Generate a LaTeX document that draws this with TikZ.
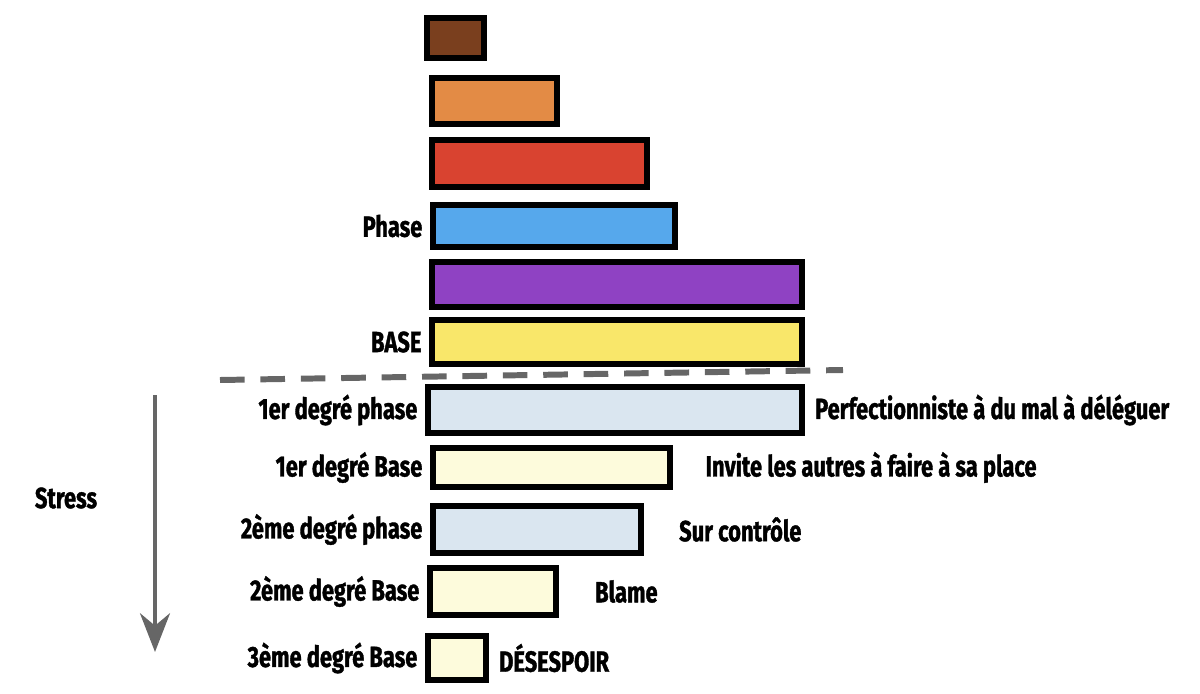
\documentclass[tikz,border=0pt]{standalone}
\usepackage{fontspec}
\setmainfont{Fira Sans}[FakeStretch=0.75, BoldFeatures={FakeBold=1.2}]
\usetikzlibrary{positioning, fit, arrows.meta}

\definecolor{brun}{HTML}{7A3F1E}
\definecolor{orangec}{HTML}{E38B45}
\definecolor{rouge}{HTML}{D94330}
\definecolor{bleu}{HTML}{56A8EC}
\definecolor{violet}{HTML}{8F42C3}
\definecolor{jaune}{HTML}{F9E76A}
\definecolor{bleupale}{HTML}{DAE6F0}
\definecolor{jaunepale}{HTML}{FDFBDC}
\definecolor{gris}{HTML}{666666}

\begin{document}
\begin{tikzpicture}[x=0.02cm, y=-0.02cm,
  bar/.style={draw=black, line width=3.2pt, inner sep=0pt},
  lbl/.style={font=\fontsize{16.6}{18}\selectfont\bfseries, inner sep=0pt}]
\useasboundingbox (0,0) rectangle (1200,693);

% Structure de personnalite
\foreach \n/\xa/\ya/\xb/\yb/\c in {
   s1/427/18/484/58/brun, s2/432/78/557/124/orangec,
   s3/432/140/647/187/rouge, s4/433/205/675/247/bleu,
   s5/432/262/802/307/violet, s6/432/320/802/364/jaune} {
   \node[bar, fill=\c, fit={(\xa,\ya) (\xb,\yb)}] (\n) {};
}
\node[lbl, left=0.15cm of s4] (phase) {Phase};
\node[lbl, left=0.15cm of s6] (base) {BASE};

% Separation
\coordinate (sepA) at (220,380);
\coordinate (sepB) at (843,370);
\draw[gris, line width=3.4pt, dash pattern=on 14pt off 9pt] (sepA) -- (sepB);

% Stress
\foreach \n/\xa/\ya/\xb/\yb/\c/\gauche/\d/\droite in {
   d1/428/387/802/433/bleupale/1er degré phase/0.2cm/Perfectionniste à du mal à déléguer,
   d2/433/448/670/487/jaunepale/1er degré Base/0.65cm/Invite les autres à faire à sa place,
   d3/433/506/641/553/bleupale/2ème degré phase/0.7cm/Sur contrôle,
   d4/430/568/556/615/jaunepale/2ème degré Base/0.72cm/Blame,
   d5/428/636/486/680/jaunepale/3ème degré Base/0.2cm/DÉSESPOIR} {
   \node[bar, fill=\c, fit={(\xa,\ya) (\xb,\yb)}] (\n) {};
   \node[lbl, left=0.15cm of \n] (\n-g) {\gauche};
   \node[lbl, right=\d of \n] (\n-d) {\droite};
}

\coordinate (haut) at (155,395);
\coordinate (bas) at (155,652);
\draw[gris, line width=2.8pt, -{Stealth[length=22pt, width=17pt, inset=7pt]}] (haut) -- (bas);
\node[lbl] (stress) at (66,498) {Stress};
\end{tikzpicture}
\end{document}
